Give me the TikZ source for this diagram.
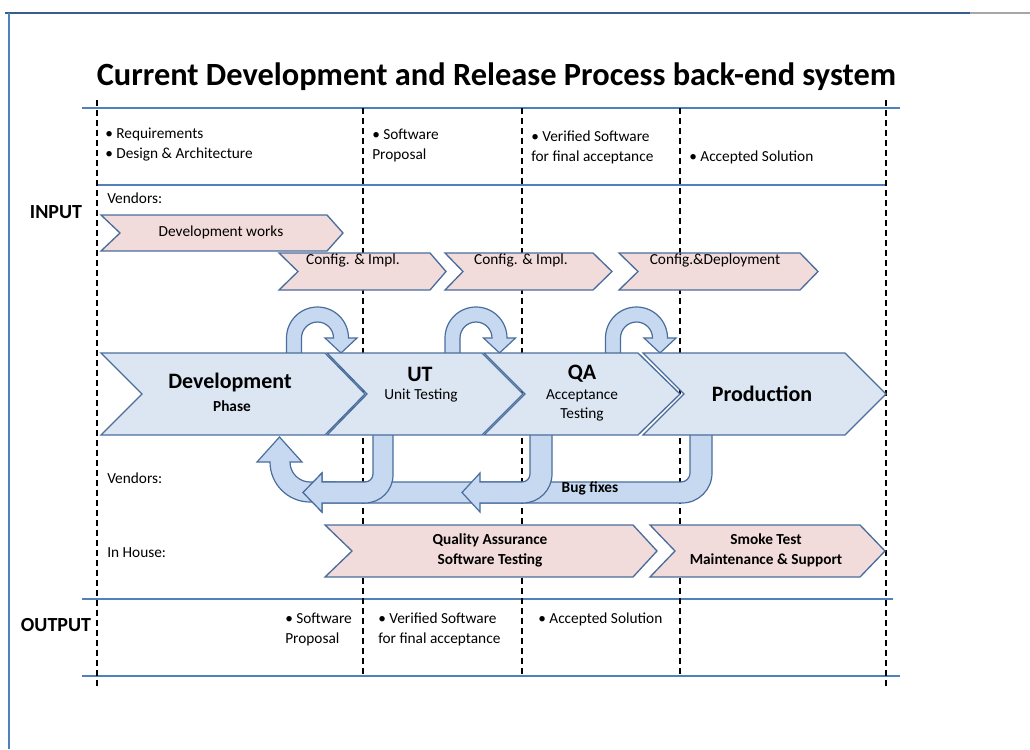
\documentclass[tikz,border=0pt]{standalone}
\usepackage{fontspec}
\setmainfont{Carlito}
\definecolor{hblue}{HTML}{4F81BD}
\definecolor{frameblue}{HTML}{385D8A}
\definecolor{edgeblue}{HTML}{4A6D9C}
\definecolor{pinkfill}{HTML}{F2DCDB}
\definecolor{chevfill}{HTML}{DCE6F2}
\definecolor{loopfill}{HTML}{C6D9F1}
\newcommand{\myloop}[1]{%
  \path[looparrow] ({#1-7.5},358) -- ({#1-7.5},338)
    arc[start angle=180,end angle=360,radius=31]
    -- ({#1+23.5+39.5},338) -- ({#1+47},353) -- ({#1+23.5+7.5},338)
    -- ({#1+23.5+16},338) arc[start angle=360,end angle=180,radius=16]
    -- ({#1+7.5},358) -- cycle;}
\newcommand{\mybent}[6]{%
  \path[looparrow] (#2,430) -- (#2,{503-#6})
    arc[start angle=0,end angle=90,radius=#6]
    -- (#3,503) -- (#3,512) -- (#4,492.5) -- (#3,473) -- (#3,482)
    -- ({#1-#5},482) arc[start angle=90,end angle=0,radius=#5]
    -- (#1,430) -- cycle;}
\begin{document}
\begin{tikzpicture}[x=0.75pt,y=-0.75pt,
  hline/.style={draw=hblue,line width=1.3pt},
  dline/.style={draw=black,line width=1pt,dash pattern=on 4.5pt off 3pt},
  pinkchev/.style={fill=pinkfill,draw=edgeblue,line width=1pt},
  bluechev/.style={fill=chevfill,draw=edgeblue,line width=1pt},
  looparrow/.style={fill=loopfill,draw=edgeblue,line width=0.9pt},
  small/.style={font=\fontsize{11.5}{15}\selectfont,inner sep=0pt,align=left},
  smallb/.style={font=\bfseries\fontsize{11.5}{15}\selectfont,inner sep=0pt,align=center},
  bigb/.style={font=\bfseries\fontsize{16.5}{19}\selectfont,inner sep=0pt},
  sideb/.style={font=\bfseries\fontsize{15}{18}\selectfont,inner sep=0pt}]
\useasboundingbox (0,0) rectangle (1030,749);
% frame
\draw[frameblue,line width=1.5pt] (5,13) -- (970,13);
\draw[gray!70,line width=0.8pt] (970,13) -- (1030,13);
\draw[hblue,line width=1.2pt] (9,13) -- (9,749);
% horizontal rules
\draw[hline] (82,108) -- (900,108);
\draw[hline] (97,185) -- (885,185);
\draw[hline] (82,599) -- (893,599);
\draw[hline] (82,676) -- (900,676);
% dashed column lines
\draw[dline] (97,100) -- (97,686);
\draw[dline] (363,108) -- (363,676);
\draw[dline] (522,108) -- (522,676);
\draw[dline] (680,108) -- (680,676);
\draw[dline] (886,100) -- (886,686);
% title
\node[font=\bfseries\fontsize{24.3}{28}\selectfont,inner sep=0pt] (title) at (496.5,77) {Current Development and Release Process back-end system};
% top inputs
\node[small,anchor=west] (in1) at (105,145) {• Requirements\\• Design \& Architecture};
\node[small,anchor=west] (in2) at (372,145) {• Software\\Proposal};
\node[small,anchor=west] (in3) at (531,147) {• Verified Software\\for final acceptance};
\node[small,anchor=west] (in4) at (689,157) {• Accepted Solution};
\node[small,anchor=west] (vend1) at (107,198) {Vendors:};
\node[sideb] (input) at (56,212) {INPUT};
% top pink chevrons
\path[pinkchev] (101,215) -- (327,215) -- (343,233) -- (327,251) -- (101,251) -- (120,233) -- cycle;
\node[small] (devw) at (221,232) {Development works};
\path[pinkchev] (279,253) -- (430,253) -- (446,271.5) -- (430,290) -- (279,290) -- (298,271.5) -- cycle;
\node[small] (cfg1) at (353,260) {Config. \& Impl.};
\path[pinkchev] (445,253) -- (593,253) -- (612,271.5) -- (593,290) -- (445,290) -- (463,271.5) -- cycle;
\node[small] (cfg2) at (521,260) {Config. \& Impl.};
\path[pinkchev] (619,253) -- (800,253) -- (818,271.5) -- (800,290) -- (619,290) -- (638,271.5) -- cycle;
\node[small] (cfg3) at (715,260) {Config.\&Deployment};
% loops above
\myloop{294}
\myloop{452.5}
\myloop{613}
% curved arrow back to development
\path[looparrow] (335,482) -- (310,482) arc[start angle=90,end angle=180,radius=20]
  -- (302,462) -- (279.5,437) -- (257,462) -- (270,462)
  arc[start angle=180,end angle=90,radius=40] -- (335,502) -- cycle;
% bug-fix arrows
\mybent{690}{712}{322}{303}{9}{30}
\mybent{530}{552}{480}{462}{8}{29}
\mybent{373}{393}{322}{303}{8}{28}
% big chevrons
\path[bluechev] (101,353) -- (325,353) -- (365,394) -- (325,435) -- (101,435) -- (142,394) -- cycle;
\path[bluechev] (327,353) -- (482,353) -- (523,394) -- (482,435) -- (327,435) -- (367,394) -- cycle;
\path[bluechev] (484,353) -- (638,353) -- (680,394) -- (638,435) -- (484,435) -- (525,394) -- cycle;
\path[bluechev] (643,353) -- (845,353) -- (886,394) -- (845,435) -- (643,435) -- (684,394) -- cycle;
\node[bigb] (dev) at (230,383) {Development};
\node[smallb] (phase) at (232,406) {Phase};
\node[bigb] (ut) at (420,374) {UT};
\node[small] (utt) at (421,396) {Unit Testing};
\node[small,align=center,font=\fontsize{11.5}{14.3}\selectfont] (qat) at (582,405.5) {Acceptance\\Testing};
\node[bigb] (qa) at (582,374) {QA};
\node[bigb] (prod) at (762,394) {Production};
\node[smallb] (bug) at (590,488) {Bug fixes};
\node[small,anchor=west] (vend2) at (107,478) {Vendors:};
\node[small,anchor=west] (inh) at (107,553) {In House:};
% bottom pink chevrons
\path[pinkchev] (325,525) -- (633,525) -- (657,551) -- (633,577) -- (325,577) -- (352,551) -- cycle;
\node[smallb] (qas) at (490,550) {Quality Assurance\\Software Testing};
\path[pinkchev] (650,525) -- (860,525) -- (885,551) -- (860,577) -- (650,577) -- (675,551) -- cycle;
\node[smallb] (smk) at (766,550) {Smoke Test\\Maintenance \& Support};
% outputs
\node[sideb] (output) at (56,625) {OUTPUT};
\node[small,anchor=west] (out1) at (285,629.5) {• Software\\Proposal};
\node[small,anchor=west] (out2) at (378,629.5) {• Verified Software\\for final acceptance};
\node[small,anchor=west] (out3) at (538,619) {• Accepted Solution};
\end{tikzpicture}
\end{document}
